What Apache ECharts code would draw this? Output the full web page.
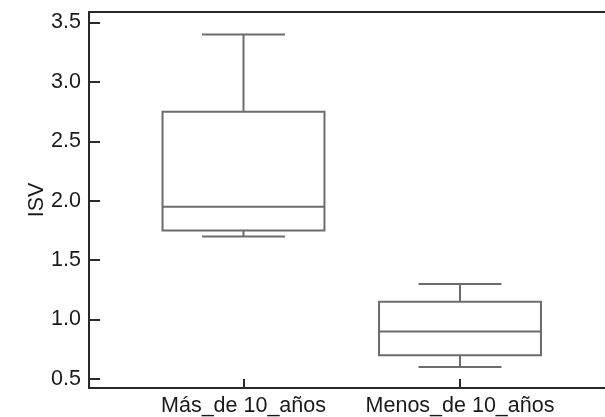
<!DOCTYPE html>
<html>
<head>
<meta charset="utf-8">
<script src="https://cdn.jsdelivr.net/npm/echarts@6/dist/echarts.min.js"></script>
<style>
html,body{margin:0;padding:0;background:#fff;}
#chart{width:605px;height:417px;}
</style>
</head>
<body>
<div id="chart"></div>
<script>
// ---- data ----
const categories = ['Más_de 10_años', 'Menos_de 10_años'];
const categoryPositions = [1, 2];
const mins    = [1.70, 0.60];
const q1s     = [1.75, 0.70];
const medians = [1.95, 0.90];
const q3s     = [2.75, 1.15];
const maxs    = [3.40, 1.30];
const yTicks  = [0.5, 1.0, 1.5, 2.0, 2.5, 3.0, 3.5];
const yAxisName = 'ISV';

// ---- style constants ----
const FONT = 'Liberation Sans';
const FS = 21.5;
const AXIS_COLOR = '#2a2a2a';
const BOX_COLOR = '#6c6c6c';
const BOX_W = 0.748;   // box width in x-axis units
const CAP_W = 0.383;   // whisker cap width in x-axis units
const X_MIN = 0.2864, X_MAX = 2.6697;
const Y_MIN = 0.424, Y_MAX = 3.589;

const boxData = categories.map((c, i) =>
  [categoryPositions[i], mins[i], q1s[i], medians[i], q3s[i], maxs[i]]);

const chart = echarts.init(document.getElementById('chart'), null, {renderer: 'canvas'});

chart.setOption({
  animation: false,
  backgroundColor: '#fff',
  grid: {left: 89, right: 0, top: 12, bottom: 29, containLabel: false, outerBoundsMode: 'none'},
  xAxis: [{
    type: 'value', min: X_MIN, max: X_MAX, position: 'bottom',
    splitLine: {show: false},
    axisLine: {show: true, lineStyle: {color: AXIS_COLOR, width: 2}},
    axisTick: {show: true, inside: true, length: 9, customValues: categoryPositions,
               lineStyle: {color: AXIS_COLOR, width: 2}},
    axisLabel: {show: true, customValues: categoryPositions, margin: 7,
                fontFamily: FONT, fontSize: FS, color: '#1a1a1a',
                formatter: v => categories[categoryPositions.indexOf(Math.round(v))] || ''}
  }, {
    type: 'value', min: X_MIN, max: X_MAX, position: 'top',
    splitLine: {show: false},
    axisLine: {show: true, lineStyle: {color: AXIS_COLOR, width: 2}},
    axisTick: {show: false}, axisLabel: {show: false}
  }],
  yAxis: {
    type: 'value', min: Y_MIN, max: Y_MAX,
    name: yAxisName, nameLocation: 'middle', nameGap: 41, nameMoveOverlap: false,
    nameTextStyle: {fontFamily: FONT, fontSize: FS, color: '#1a1a1a'},
    splitLine: {show: false},
    axisLine: {show: true, lineStyle: {color: AXIS_COLOR, width: 2}},
    axisTick: {show: true, inside: true, length: 11, customValues: yTicks,
               lineStyle: {color: AXIS_COLOR, width: 2}},
    axisLabel: {show: true, customValues: yTicks, margin: 8,
                fontFamily: FONT, fontSize: FS, color: '#1a1a1a',
                formatter: v => v.toFixed(1)}
  },
  series: [{
    type: 'custom',
    xAxisIndex: 0,
    data: boxData,
    encode: {x: 0, y: [1, 2, 3, 4, 5]},
    renderItem: function (params, api) {
      const x = api.value(0);
      const pMin = api.coord([x, api.value(1)]);
      const pQ1 = api.coord([x, api.value(2)]);
      const pMed = api.coord([x, api.value(3)]);
      const pQ3 = api.coord([x, api.value(4)]);
      const pMax = api.coord([x, api.value(5)]);
      const bw = api.size([BOX_W, 0])[0];
      const cw = api.size([CAP_W, 0])[0];
      const cx = pMed[0];
      const st = {stroke: BOX_COLOR, lineWidth: 2, fill: null};
      const line = (x1, y1, x2, y2) => ({type: 'line', shape: {x1, y1, x2, y2}, style: st});
      return {
        type: 'group',
        children: [
          line(cx, pQ3[1], cx, pMax[1]),
          line(cx, pQ1[1], cx, pMin[1]),
          line(cx - cw / 2, pMax[1], cx + cw / 2, pMax[1]),
          line(cx - cw / 2, pMin[1], cx + cw / 2, pMin[1]),
          {type: 'rect', shape: {x: cx - bw / 2, y: pQ3[1], width: bw, height: pQ1[1] - pQ3[1]},
           style: {stroke: BOX_COLOR, lineWidth: 2, fill: '#fff'}},
          line(cx - bw / 2, pMed[1], cx + bw / 2, pMed[1])
        ]
      };
    }
  }]
});
</script>
</body>
</html>
